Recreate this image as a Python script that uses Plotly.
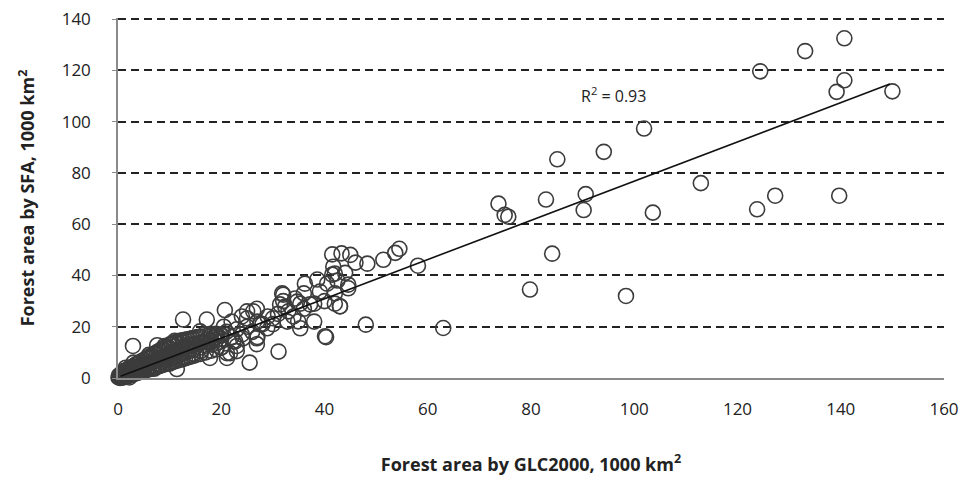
import plotly.graph_objects as go

# --- Data (1000 km^2) ---
# dense band near the origin (the solid dark blob)
band_x = [0.5, 0.5, 1.0, 1.0, 1.5, 1.5, 1.5, 2.0, 2.0, 2.0, 2.5, 2.5, 2.5, 3.0, 3.0, 3.0,
          3.5, 3.5, 3.5, 4.0, 4.0, 4.0, 4.5, 4.5, 4.5, 5.0, 5.0, 5.0, 5.5, 5.5, 5.5,
          6.0, 6.0, 6.0, 6.5, 6.5, 6.5, 7.0, 7.0, 7.0, 7.5, 7.5, 7.5, 8.0, 8.0, 8.0,
          8.5, 8.5, 8.5, 9.0, 9.0, 9.0, 9.5, 9.5, 9.5, 10.0, 10.0, 10.0, 10.5, 10.5, 10.5,
          11.0, 11.0, 11.0, 11.5, 11.5, 11.5, 12.0, 12.0, 12.0, 12.5, 12.5, 12.5,
          13.0, 13.0, 13.0, 13.5, 13.5, 13.5, 14.0, 14.0, 14.0, 14.5, 14.5, 14.5,
          15.0, 15.0, 15.0, 16.0, 16.0, 16.0, 17.0, 17.0, 17.0, 18.0, 18.0, 18.0,
          19.0, 19.0, 19.0, 20.0, 20.0, 20.0]
band_y = [0.3, 1.0, 0.5, 1.5, 0.8, 2.0, 2.6, 1.0, 2.0, 3.2, 1.3, 2.5, 3.8, 1.6, 3.0, 4.5,
          1.9, 3.5, 5.2, 2.2, 4.0, 5.8, 2.5, 4.4, 6.4, 2.8, 4.9, 7.0, 3.1, 5.3, 7.6,
          3.4, 5.8, 8.2, 3.7, 6.2, 8.8, 4.0, 6.6, 9.4, 4.3, 7.0, 10.0, 4.6, 7.5, 10.6,
          5.0, 8.0, 11.2, 5.3, 8.4, 11.8, 5.6, 8.8, 12.4, 5.9, 9.3, 13.0, 6.2, 9.8, 13.5,
          6.5, 10.2, 13.9, 6.8, 10.6, 14.2, 7.1, 11.0, 14.5, 7.4, 11.4, 14.7,
          7.7, 11.8, 14.9, 8.0, 12.2, 15.1, 8.3, 12.5, 15.3, 8.6, 12.8, 15.5,
          8.9, 13.1, 15.7, 9.4, 13.6, 16.0, 10.0, 14.0, 16.3, 10.6, 14.4, 16.5,
          11.2, 14.8, 16.7, 11.8, 15.2, 16.8]

dense_x = [0.1, 0.3, 0.5, 0.6, 0.8, 1.0, 1.1, 1.3, 1.5, 1.6, 1.8, 2.0, 2.1, 2.3, 2.5, 2.6, 2.8, 3.0,
           3.1, 3.3, 3.5, 3.6, 3.8, 4.0, 4.1, 4.3, 4.5, 4.6, 4.8, 5.0, 0.2, 0.4, 0.7, 1.2, 1.9, 2.4,
           3.4, 4.4, 5.2, 5.4, 5.6, 5.8, 6.0, 6.2, 6.5, 6.8, 7.0, 7.2, 7.5, 7.8, 8.0, 8.2, 8.5, 8.8,
           9.0, 9.3, 9.6, 9.9, 10.2, 10.5, 10.8, 11.1, 11.4, 11.7, 12.0, 12.3, 12.6, 12.9, 13.2, 13.5,
           13.8, 14.1, 14.4, 14.7, 15.0, 15.4, 15.8, 16.2, 16.6, 17.0, 17.4, 17.8, 18.2, 18.6, 19.0,
           19.5, 20.0, 6.0, 9.0, 11.0, 7.0, 10.0, 3.0, 1.5, 0.9, 2.2, 12.5, 14.5, 16.0]
dense_y = [0.2, 0.5, 0.3, 0.9, 0.6, 1.2, 0.4, 1.6, 0.9, 2.1, 1.3, 0.7, 2.4, 1.8, 1.1, 3.0, 2.2, 1.5,
           3.4, 2.6, 1.9, 4.0, 3.0, 2.2, 4.6, 3.4, 2.6, 5.2, 3.9, 3.0, 1.0, 0.0, 1.8, 2.8, 3.5, 4.2,
           5.2, 6.3, 6.8, 4.4, 3.4, 5.6, 7.6, 4.6, 6.0, 8.4, 5.0, 6.8, 9.2, 5.6, 7.6, 10.0, 6.3, 8.3,
           10.8, 7.0, 9.0, 11.6, 7.7, 9.8, 12.4, 8.4, 10.6, 13.2, 9.0, 11.3, 14.0, 9.8, 12.0, 14.8,
           10.5, 12.7, 15.5, 11.2, 13.4, 16.0, 11.8, 14.1, 16.8, 12.6, 14.8, 17.0, 13.0, 15.5, 17.2,
           14.0, 16.5, 9.0, 12.5, 14.5, 3.6, 5.6, 6.0, 4.0, 0.1, 0.2, 8.0, 9.5, 10.5]

# scattered points
sparse_x = [2.9, 7.6, 12.6, 17.2, 20.7, 25.0, 26.9, 31.4, 25.5, 31.1, 11.4, 15.9, 19.2, 22.3, 17.8,
            21.1, 23.0, 24.2, 26.9, 28.9, 30.0, 32.8, 18.0, 19.0, 20.0, 21.0, 22.0, 23.0, 24.0, 25.0,
            26.0, 27.0, 28.0, 29.0, 27.0, 23.0, 20.5, 22.0, 24.0, 21.1, 26.2, 27.5, 26.9, 21.7, 22.7,
            25.0, 31.0, 33.0, 34.0, 36.0, 38.0, 36.0, 32.0, 30.0, 38.0, 40.0, 42.0,
            43.0, 40.1, 32.4, 34.9, 35.3, 34.7, 37.2, 39.1, 32.0, 31.8, 34.3, 36.2, 38.6, 40.5,
            41.5, 42.0, 41.7, 44.6, 42.0, 35.3, 41.5, 43.3, 45.0, 46.0, 48.3, 51.4, 53.7, 54.5,
            58.1, 44.6, 43.0, 48.0, 63.0, 40.3, 42.5, 44.0,
            73.7, 74.9, 75.6, 82.9, 90.6, 90.2, 103.6, 84.1, 79.8, 98.4, 85.1, 94.1, 101.9,
            112.9, 123.8, 127.3, 139.7, 124.4, 133.1, 140.7, 140.7, 139.2, 150.0]
sparse_y = [12.5, 12.8, 22.8, 22.8, 26.5, 26.0, 27.0, 28.7, 6.0, 10.3, 3.5, 18.2, 17.0, 14.3, 7.8,
            7.8, 10.5, 15.5, 13.2, 19.4, 23.3, 22.0, 14.0, 16.0, 12.0, 18.0, 16.0, 19.0, 17.0, 20.0,
            18.0, 22.0, 21.0, 24.0, 16.0, 12.5, 20.0, 22.0, 24.0, 9.7, 26.0, 20.9, 15.5, 9.7, 14.3,
            23.3, 25.0, 26.0, 24.0, 27.0, 29.0, 33.0, 30.0, 21.0, 22.0, 30.0, 33.0,
            27.9, 16.3, 27.9, 22.1, 19.4, 29.8, 28.7, 33.7, 32.5, 33.0, 31.0, 36.8, 38.4, 36.8,
            40.3, 40.7, 43.4, 36.4, 29.0, 29.0, 48.2, 48.6, 48.0, 45.0, 44.6, 46.1, 48.8, 50.4,
            43.8, 35.0, 28.0, 20.8, 19.5, 15.9, 38.0, 41.0,
            68.0, 63.6, 62.9, 69.6, 71.7, 65.5, 64.5, 48.5, 34.5, 32.0, 85.3, 88.2, 97.3,
            76.0, 65.8, 71.1, 71.1, 119.6, 127.5, 132.5, 116.1, 111.6, 111.8]

x_vals = band_x + dense_x + sparse_x
y_vals = band_y + dense_y + sparse_y

# linear trendline
trend_x = [0.5, 149.5]
trend_slope = 0.765
trend_intercept = 0.3
trend_y = [trend_slope * v + trend_intercept for v in trend_x]
r2_text = "R<sup>2</sup> = 0.93"

x_ticks = [0, 20, 40, 60, 80, 100, 120, 140, 160]
y_ticks = [0, 20, 40, 60, 80, 100, 120, 140]

fig = go.Figure()
fig.add_trace(go.Scatter(
    x=x_vals, y=y_vals, mode="markers", cliponaxis=False,
    marker=dict(symbol="circle-open", size=15, color="#3c3c3c", line=dict(width=1.6, color="#3c3c3c")),
    showlegend=False, hoverinfo="x+y"))
fig.add_trace(go.Scatter(
    x=trend_x, y=trend_y, mode="lines", cliponaxis=False,
    line=dict(color="#111111", width=1.6), showlegend=False, hoverinfo="skip"))

fig.add_annotation(x=96, y=110.5, text=r2_text, showarrow=False,
                   font=dict(family="Open Sans", size=16, color="#222"))

# page body has an 8px margin, so the figure is 8px smaller and shifted
fig.update_layout(
    width=959, height=477,
    margin=dict(l=110, r=23, t=10, b=107),
    paper_bgcolor="white", plot_bgcolor="white",
    font=dict(family="Open Sans", color="#222"),
    xaxis=dict(range=[0, 160], tickvals=x_ticks, showgrid=False, zeroline=False,
               showline=True, linecolor="#8a8a8a", linewidth=1.5, automargin=False,
               ticks="", tickfont=dict(size=17, color="#222"), ticklabelstandoff=15,
               ticklabeloverflow="allow",
               title=dict(text="<b>Forest area by GLC2000, 1000 km<sup>2</sup></b>",
                          font=dict(size=18, color="#222"), standoff=39)),
    yaxis=dict(range=[0, 140.4], tickvals=y_ticks, showgrid=True, gridcolor="#222",
               griddash="8px,5px", gridwidth=1.6, zeroline=False,
               showline=True, linecolor="#8a8a8a", linewidth=1.5, automargin=False,
               ticks="outside", ticklen=4, tickcolor="#8a8a8a",
               tickfont=dict(size=17, color="#222"), ticklabelstandoff=18,
               ticklabeloverflow="allow",
               title=dict(text="<b>Forest area by SFA, 1000 km<sup>2</sup></b>",
                          font=dict(size=18, color="#222"), standoff=22)),
)

fig.write_html("out.html")
